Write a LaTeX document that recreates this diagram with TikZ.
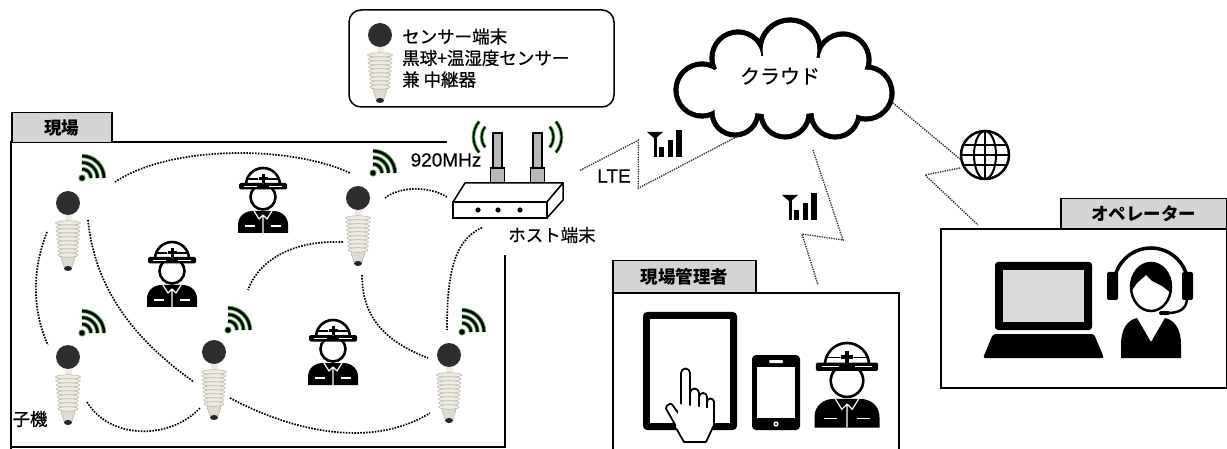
\documentclass[tikz,border=0pt]{standalone}
\usepackage{fontspec}
\setmainfont{Noto Sans CJK JP}
\newfontfamily\jpmid{Noto Sans CJK JP}[FakeBold=0.7]
\newfontfamily\latinfont{Liberation Sans}[FakeBold=0.4]

\definecolor{tabgray}{HTML}{D4D4D4}
\definecolor{wifigreen}{HTML}{5DB85D}
\definecolor{ballgray}{HTML}{2E2E2E}
\definecolor{fincolor}{HTML}{EEEBE2}
\definecolor{finedge}{HTML}{B3AFA3}
\definecolor{antgray}{HTML}{B8B8B8}
\definecolor{screengray}{HTML}{D9D9D9}

\tikzset{
  tabbox/.style={draw, line width=1.5pt, fill=tabgray, inner sep=0,
    font=\fontsize{17.5}{20}\selectfont\bfseries},
  panel/.style={line width=1.8pt},
  lbl/.style={inner sep=0, font=\jpmid\fontsize{17.5}{21.5}\selectfont},
  link/.style={line width=1.7pt, dash pattern=on 1.6pt off 1.3pt},
  zigzag/.style={line width=1.4pt, dash pattern=on 1.3pt off 1.1pt, draw=black!80},
  handline/.style={draw, fill=white, line width=1.8pt, line join=round},
  % sensor: black globe on a finned housing
  sensor/.pic={
    \fill[fincolor] (-3.5,8) rectangle (3.5,21);
    \draw[finedge, fill=fincolor!85!gray, line width=0.5pt] (-7,53) .. controls (-7,59) and (-4,60) .. (-4,64)
      -- (4,64) .. controls (4,60) and (7,59) .. (7,53) -- cycle;
    \fill[black!85] (0,65.5) ellipse (4 and 2.5);
    \foreach \fy in {20,24,...,52}
      \draw[finedge, fill=fincolor, line width=0.5pt] (0,\fy) ellipse ({12.5-0.08*(\fy-20)} and 2.3);
    \fill[ballgray] (0,0) circle (12);
  },
  wifi/.pic={
    \foreach \r in {9,15.5,22} {
      \draw[wifigreen, line width=4.4pt] (\r,0) arc (0:-90:\r);
      \draw[line width=2.6pt] (\r,0) arc (0:-90:\r);
    }
    \fill[wifigreen] (0,0) circle (3.7);
    \fill (0,0) circle (2.7);
  },
  signal/.pic={
    \fill (0,0) -- (16,0) -- (8,7) -- cycle;
    \fill (6.5,3) rectangle (9.5,25);
    \fill (12,15) rectangle (17,25);
    \fill (20.5,8) rectangle (25.5,25);
    \fill (29,-2) rectangle (35,25);
  },
  worker/.pic={
    \fill (-25,65) -- (-25,57) .. controls (-25,48) and (-18,43) .. (-10,43) -- (10,43)
      .. controls (18,43) and (25,48) .. (25,57) -- (25,65) -- cycle;
    \draw[white, line width=1.2pt, line join=round] (-9,43) -- (-4,51) -- (0,47) -- (4,51) -- (9,43) (0,47) -- (0,65);
    \draw[white, line width=1.6pt] (-18,58) -- (-8,58) (8,58) -- (18,58);
    \draw[line width=2.6pt, fill=white] (0,29) circle (12.5);
    \draw[line width=2.6pt, fill=white] (-17,17) arc (180:360:17) -- cycle;
    \draw[line width=1.5pt] (-15,11) -- (15,11);
    \fill[rounded corners=1.5pt] (-24,15) rectangle (24,21.5);
    \draw[white, line width=1.3pt] (-19,18.2) -- (-6,18.2) (6,18.2) -- (19,18.2);
    \fill[white] (0,10.5) circle (5);
    \fill (-1.5,6) rectangle (1.5,15);
    \fill (-4.5,9) rectangle (4.5,12);
  }
}

\begin{document}
\begin{tikzpicture}[x=1pt,y=-1pt]
\useasboundingbox (0,0) rectangle (1227,449);
\clip (0,0) rectangle (1227,449);

% legend
\draw[line width=1.5pt, rounded corners=12pt] (349,10) rectangle (614,107);
\pic at (380,35) {sensor};
\node[lbl, anchor=west, align=left] (legend) at (402,58) {センサー端末\\黒球+温湿度センサー\\兼 中継器};

% site
\draw[panel] (447,142) -- (11,142) -- (11,452);
\draw[panel] (11,447) -- (505,447) -- (505,255);
\node[tabbox, minimum width=100pt, minimum height=30pt, anchor=north west] (sitetab) at (11,112) {現場};

\coordinate (s1) at (68,203);
\coordinate (s2) at (358,198);
\coordinate (s3) at (68,357);
\coordinate (s4) at (214,352);
\coordinate (s5) at (449,355);
\foreach \s in {s1,s2,s3,s4,s5}
  \pic at (\s) {sensor};
\pic at (82,178) {wifi};
\pic at (373,173) {wifi};
\pic at (82,333) {wifi};
\pic at (228,330) {wifi};
\pic at (462,332) {wifi};
\node[lbl] (child) at (30,419) {子機};

\pic at (263,168) {worker};
\pic at (172,242) {worker};
\pic at (333,320) {worker};

% host router
\node[inner sep=0, minimum width=110pt, minimum height=35pt] (router) at (508,200) {};
\foreach \ax in {497.5,537.5} {
  \draw[line width=1.2pt, fill=antgray] (\ax-4.5,133) rectangle (\ax+4.5,169);
  \draw[line width=1.2pt, fill=antgray] (\ax-7,168) rectangle (\ax+7,184);
}
\foreach \r in {16,24} {
  \draw[wifigreen, line width=3.6pt] (497.5,137) ++(-140:\r) arc (-140:-220:\r);
  \draw[line width=1.8pt] (497.5,137) ++(-140:\r) arc (-140:-220:\r);
  \draw[wifigreen, line width=3.6pt] (537.5,137) ++(-40:\r) arc (-40:40:\r);
  \draw[line width=1.8pt] (537.5,137) ++(-40:\r) arc (-40:40:\r);
}
\draw[line width=1.5pt, fill=white, line join=round] (453,202) -- (465,183) -- (563,183) -- (547,202) -- cycle;
\draw[line width=1.5pt, fill=white] (453,202) rectangle (547,218);
\draw[line width=1.5pt, fill=white, line join=round] (547,202) -- (563,183) -- (563,200) -- (547,218) -- cycle;
\foreach \x in {478,498,520}
  \fill (\x,210) circle (2.6);
\node[lbl, font=\latinfont\fontsize{19}{21}\selectfont] (freq) at (446,160) {920MHz};
\node[lbl] (hostlbl) at (552,235) {ホスト端末};

% sensor mesh
\draw[link] ([shift={(47,-21)}]s1) .. controls +(55,-37) and +(-60,-28) .. ([shift={(-8,-25)}]s2);
\draw[link] ([shift={(-21,29)}]s1) .. controls +(-15,38) and +(-16,-35) .. ([shift={(-20,-12)}]s3);
\draw[link] ([shift={(20,17)}]s1) .. controls +(7,70) and +(-59,-42) .. ([shift={(-20,30)}]s4);
\draw[link] ([shift={(-15,44)}]s2) .. controls +(-53,-2) and +(10,-28) .. ([shift={(34,-62)}]s4);
\draw[link] ([shift={(4,77)}]s2) .. controls +(0,50) and +(-33,-13) .. ([shift={(-21,3)}]s5);
\draw[link] ([shift={(19,45)}]s3) .. controls +(23,38) and +(-30,32) .. ([shift={(-14,56)}]s4);
\draw[link] ([shift={(16,46)}]s4) .. controls +(60,32) and +(-60,37) .. ([shift={(-19,58)}]s5);
\draw[link] ([shift={(27,0)}]s2) .. controls +(15,-12) and +(-17,-11) .. ([shift={(-6,-3)}]router.west);
\draw[link] ([shift={(-26,10)}]router.south) .. controls +(-30,13) and +(0,-50) .. ([shift={(-2,-25)}]s5);

% cloud: black puffs, then white puffs a little smaller
\node[inner sep=0, minimum width=218pt, minimum height=119pt] (cloud) at (784,77) {};
\foreach \t/\c in {2.6/black,-2.6/white}
  \fill[\c] (702,90) circle (26+\t) (738,58) circle (26+\t) (790,50) circle (30+\t)
    (843,60) circle (26+\t) (866,93) circle (26+\t) (835,113) circle (24+\t)
    (785,113) circle (24+\t) (735,112) circle (23+\t) (784,85) ellipse (80 and 30);
\node[lbl, font=\jpmid\fontsize{20}{22}\selectfont] (cloudlbl) at (780,76) {クラウド};
\draw[zigzag] ([shift={(17,-12)}]router.north east) -- ++(58,-30) -- ++(0,48) -- ([shift={(-44,58)}]cloud.center);
\node[lbl, font=\latinfont\fontsize{19}{21}\selectfont] (lte) at (614,176) {LTE};
\pic at (647,132) {signal};

% manager
\node[draw, panel, minimum width=286pt, minimum height=170pt, anchor=north west] (mgr) at (612,292) {};
\node[tabbox, minimum width=143pt, minimum height=32pt, anchor=north west] (mgrtab) at (612,260) {現場管理者};
\draw[zigzag] ([shift={(29,73)}]cloud.center) -- ++(30,90) -- ++(-41,-6) -- ([shift={(206,-7)}]mgr.north west);
\pic at (782,195) {signal};

\fill[rounded corners=4pt] (643,312) rectangle (737,430);
\fill[white] (650,319) rectangle (730,423);
\draw[handline] (707,412) -- (707,402) arc (180:360:3.5) -- (714,412);
\draw[handline] (699,410) -- (699,397) arc (180:360:4) -- (707,410);
\draw[handline] (690,408) -- (690,393) arc (180:360:4.5) -- (699,408);
\draw[handline] (681,408) -- (681,373) arc (180:360:4.5) -- (690,408);
\draw[handline, rounded corners=2pt] (684,421) -- (671,403) -- (665,407) -- (677,428);
\fill[white] (679,404) -- (714,409) -- (714,425) -- (706,442) -- (684,442) -- (676,428) -- cycle;
\draw[line width=1.8pt, line join=round] (714,409) -- (714,425) -- (706,442) -- (684,442) -- (676,428);

\fill[rounded corners=4pt] (752,355) rectangle (800,430);
\fill[white] (757,367) rectangle (795,418);
\fill[white, rounded corners=1pt] (769,360) rectangle (783,363);
\fill[white] (776,424) circle (2.6);
\fill (776,424) circle (1.1);
\pic[scale=1.3] at (847,343) {worker};

% operator
\node[circle, inner sep=0, minimum size=50pt] (globe) at (985,155) {};
\draw[line width=2.5pt, fill=white] (globe.center) circle (24);
\begin{scope}
  \clip (985,155) circle (24);
  \draw[line width=2pt] (985,131) -- (985,179) (961,155) -- (1009,155)
    (961,145) -- (1009,145) (961,165) -- (1009,165);
  \draw[line width=2pt] (985,155) ellipse (11 and 24);
\end{scope}
\draw[zigzag] ([shift={(109,26)}]cloud.center) -- ([shift={(-25,4)}]globe.center);

\node[draw, panel, minimum width=286pt, minimum height=159pt, anchor=north west] (opr) at (940,228) {};
\node[tabbox, minimum width=166pt, minimum height=30pt, anchor=north west] (oprtab) at (1060,198) {オペレーター};
\draw[zigzag] ([shift={(-25,13)}]globe.center) -- ++(-35,7) -- ([shift={(38,-3)}]opr.north west);

\fill[rounded corners=3pt] (995,262) rectangle (1092,330);
\fill[screengray] (1003,270) rectangle (1084,322);
\fill[rounded corners=2pt] (993,334) -- (1094,334) -- (1104,358) -- (983,358) -- cycle;

\draw[line width=3.5pt] (1114,285) arc (180:360:37);
\fill[rounded corners=2pt] (1107,272) rectangle (1118,300);
\fill[rounded corners=2pt] (1182,272) rectangle (1193,300);
\draw[line width=2.5pt, fill=white] (1151,287) ellipse (20 and 24);
\begin{scope}
  \clip (1151,287) ellipse (20 and 24);
  \fill (1128,260) -- (1128,296) -- (1137,283) -- (1146,275) -- (1152,281) -- (1162,286) -- (1175,296) -- (1175,260) -- cycle;
\end{scope}
\draw[line width=2.5pt] (1187,298) .. controls (1187,309) and (1179,313) .. (1168,313);
\draw[line width=4pt, line cap=round] (1161,313) -- (1168,313);
\fill (1121,358) -- (1121,345) .. controls (1121,328) and (1128,320) .. (1137,318) -- (1151,342)
  -- (1165,318) .. controls (1174,320) and (1181,328) .. (1181,345) -- (1181,358) -- cycle;
\end{tikzpicture}
\end{document}
